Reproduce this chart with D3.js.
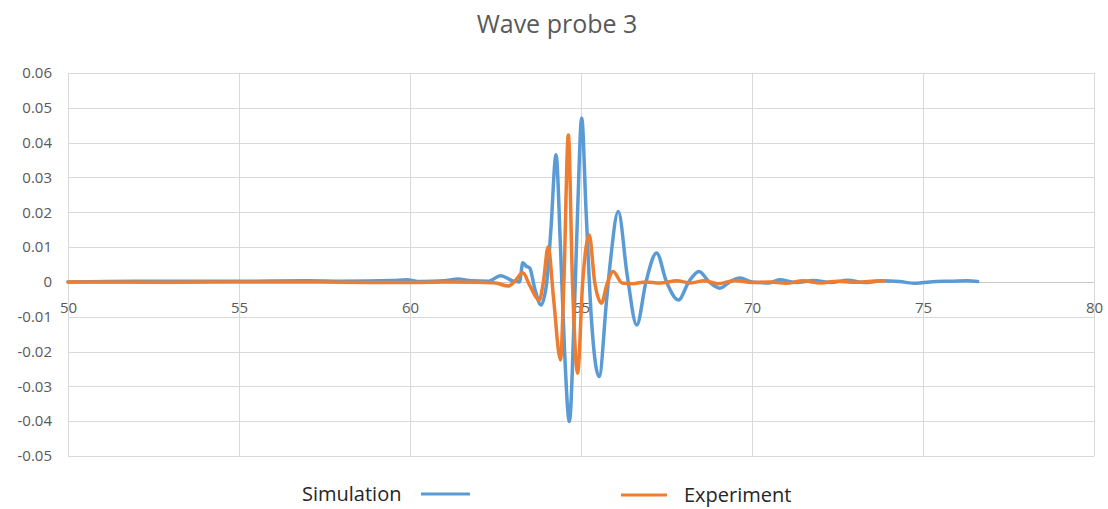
<!DOCTYPE html>
<html>
<head>
<meta charset="utf-8">
<script src="https://cdn.jsdelivr.net/npm/d3@7"></script>
<style>
  html, body { margin: 0; padding: 0; background: #fff; }
  svg { display: block; font-family: "Open Sans", "Liberation Sans", sans-serif; }
</style>
</head>
<body>
<svg id="chart" width="1108" height="509"></svg>
<script>
// Wave probe 3: surface elevation (m) against time (s)
const xTicks = [50, 55, 60, 65, 70, 75, 80];
const yTicks = [0.06, 0.05, 0.04, 0.03, 0.02, 0.01, 0, -0.01, -0.02, -0.03, -0.04, -0.05];

const simTime = [50, 52, 55, 57, 58, 59.5, 59.9, 60.3, 61.0, 61.4, 61.8, 62.3, 62.65, 63.0, 63.2, 63.3, 63.4, 63.5,
  63.65, 63.83, 64.0, 64.12, 64.27, 64.4, 64.52, 64.66, 64.8, 64.9, 65.02, 65.15, 65.3, 65.53, 65.75, 65.85,
  66.09, 66.35, 66.63, 66.9, 67.21, 67.5, 67.85, 68.15, 68.45, 68.75, 69.06, 69.35, 69.65, 70.0, 70.5, 70.8,
  71.3, 71.8, 72.3, 72.8, 73.3, 73.8, 74.3, 74.8, 75.2, 75.8, 76.3, 76.6];
const simValue = [0, 0.0002, 0.0002, 0.0003, 0.0002, 0.0004, 0.0006, 0.0001, 0.0003, 0.0008, 0.0003, 0.0002, 0.0018,
  0.0003, 0.0, 0.0055, 0.0045, 0.004, -0.002, -0.0066, 0.0, 0.015, 0.0365, 0.01, -0.02, -0.0401, -0.01, 0.02,
  0.0471, 0.02, -0.01, -0.0272, -0.005, 0.005, 0.0202, 0.002, -0.0124, 0.0, 0.0083, 0.0, -0.0052, 0.0, 0.003,
  0.0, -0.0018, 0, 0.0011, 0.0, -0.0003, 0.0006, -0.0002, 0.0004, -0.0002, 0.0005, -0.0002, 0.0003, 0.0001,
  -0.0004, 0.0, 0.0002, 0.0003, 0.0001];

const expTime = [50, 53, 56, 58, 60, 61, 62, 62.5, 62.87, 63.05, 63.3, 63.5, 63.78, 63.9, 64.04, 64.2, 64.40, 64.5,
  64.63, 64.75, 64.90, 65.05, 65.24, 65.4, 65.6, 65.75, 65.94, 66.2, 66.5, 66.9, 67.3, 67.8, 68.2, 68.6, 69.0,
  69.5, 70.0, 70.5, 71, 71.5, 72, 72.5, 73, 73.5, 73.85];
const expValue = [0, -0.0001, 0.0, -0.0001, -0.0002, 0.0, -0.0001, -0.0003, -0.0012, 0.0, 0.0026, -0.001, -0.0052,
  0.0, 0.0101, -0.005, -0.0224, 0.0, 0.0422, 0.0, -0.0262, 0.0, 0.0135, 0.0, -0.0061, -0.001, 0.003, -0.0003,
  -0.0005, 0.0, -0.0003, 0.0003, -0.0003, 0.0003, -0.0005, 0.0004, -0.0002, 0.0, -0.0004, 0.0003, -0.0003,
  0.0002, -0.0001, 0.0002, 0.0003];

const seriesNames = ["Simulation", "Experiment"];
const seriesColors = ["#5b9bd5", "#ed7d31"];

const svg = d3.select("#chart");
const plot = { left: 68, right: 1094, top: 73, bottom: 456 };

const x = d3.scaleLinear().domain([50, 80]).range([plot.left, plot.right]);
const y = d3.scaleLinear().domain([-0.05, 0.06]).range([plot.bottom, plot.top]);

const tickColor = "#595959";

// title
svg.append("text")
  .attr("x", 557).attr("y", 33)
  .attr("text-anchor", "middle")
  .attr("font-size", 25)
  .attr("fill", tickColor)
  .text("Wave probe 3");

// horizontal gridlines
svg.append("g")
  .selectAll("line")
  .data(yTicks)
  .join("line")
  .attr("x1", plot.left).attr("x2", plot.right)
  .attr("y1", d => Math.round(y(d)) + 0.5).attr("y2", d => Math.round(y(d)) + 0.5)
  .attr("stroke", d => d === 0 ? "#c8c8c8" : "#d9d9d9")
  .attr("stroke-width", 1);

// vertical gridlines
svg.append("g")
  .selectAll("line")
  .data(xTicks)
  .join("line")
  .attr("x1", d => Math.round(x(d)) + 0.5).attr("x2", d => Math.round(x(d)) + 0.5)
  .attr("y1", plot.top).attr("y2", plot.bottom)
  .attr("stroke", "#d9d9d9")
  .attr("stroke-width", 1);

// y axis labels
const yAxis = d3.axisLeft(y).tickValues(yTicks).tickSize(0).tickPadding(16)
  .tickFormat(d => d === 0 ? "0" : d3.format(".2f")(d).replace("−", "-"));
const yg = svg.append("g").attr("transform", `translate(${plot.left},0)`).call(yAxis);
yg.select(".domain").remove();
yg.selectAll("text")
  .attr("font-size", 15)
  .attr("fill", tickColor)
  .attr("font-family", "'Open Sans', sans-serif");

// x axis labels sit along the zero line
const xAxis = d3.axisBottom(x).tickValues(xTicks).tickSize(0).tickPadding(20).tickFormat(d3.format("d"));
const xg = svg.append("g").attr("transform", `translate(0,${y(0)})`).call(xAxis);
xg.select(".domain").remove();
xg.selectAll("text")
  .attr("font-size", 15)
  .attr("fill", tickColor)
  .attr("font-family", "'Open Sans', sans-serif");

// series
const line = d3.line()
  .x(d => x(d[0]))
  .y(d => y(d[1]))
  .curve(d3.curveMonotoneX);

const series = [
  d3.zip(simTime, simValue),
  d3.zip(expTime, expValue)
];

svg.append("g")
  .selectAll("path")
  .data(series)
  .join("path")
  .attr("d", line)
  .attr("fill", "none")
  .attr("stroke", (d, i) => seriesColors[i])
  .attr("stroke-width", 3.5)
  .attr("stroke-linejoin", "round")
  .attr("stroke-linecap", "round");

// legend
const legend = svg.append("g").attr("font-size", 20).attr("fill", "#262626");
legend.append("text").attr("x", 302).attr("y", 501).text(seriesNames[0]);
legend.append("line").attr("x1", 421).attr("x2", 470).attr("y1", 494).attr("y2", 494)
  .attr("stroke", seriesColors[0]).attr("stroke-width", 3);
legend.append("line").attr("x1", 621).attr("x2", 667).attr("y1", 495).attr("y2", 495)
  .attr("stroke", seriesColors[1]).attr("stroke-width", 3);
legend.append("text").attr("x", 684).attr("y", 502).text(seriesNames[1]);
</script>
</body>
</html>
